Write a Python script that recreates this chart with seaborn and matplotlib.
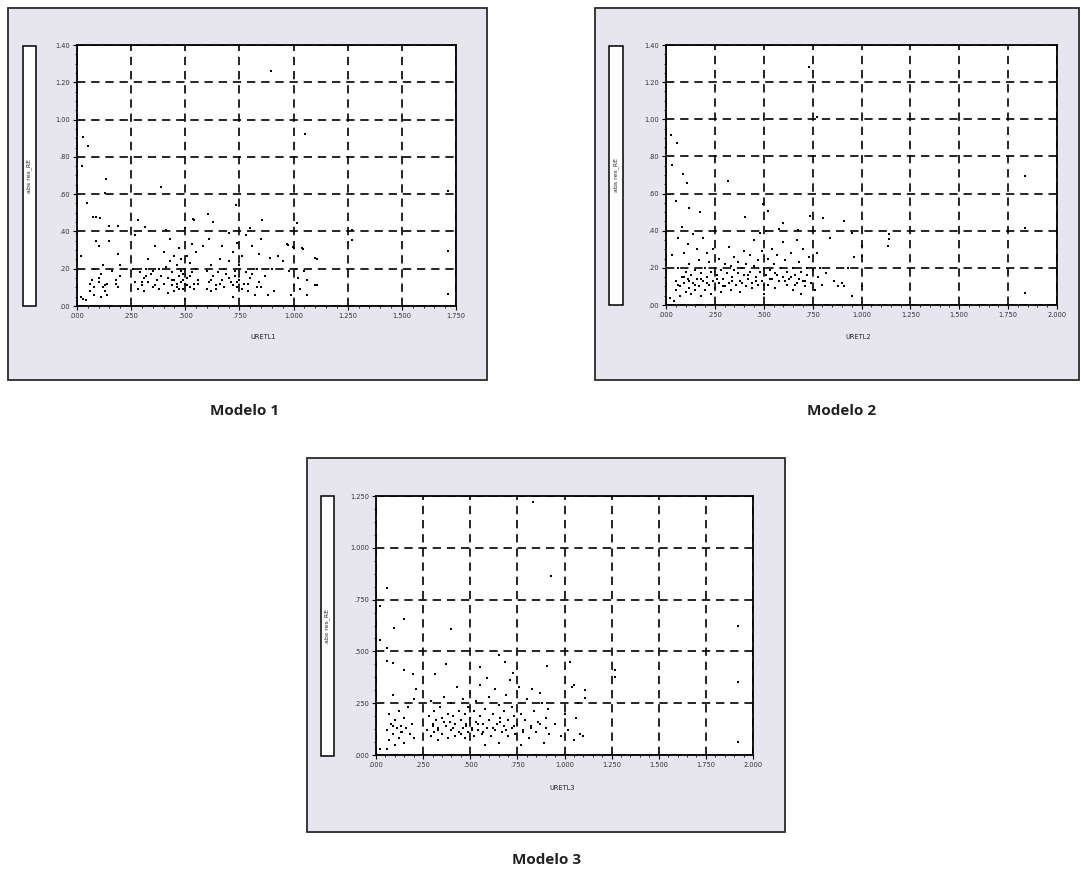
import matplotlib
matplotlib.use("Agg")
import matplotlib.pyplot as plt
import seaborn as sns
import pandas as pd
from matplotlib.patches import Rectangle
from matplotlib.ticker import AutoMinorLocator

# ==========================
# DATA
# ==========================

m1_x = [0.898, 1.052, 0.028, 0.051, 0.025, 0.136, 0.39, 0.128, 0.048, 1.715, 1.715, 1.715,
        1.268, 1.268, 1.106, 1.106, 1.014, 0.975, 0.998, 1.044, 0.736, 0.852, 0.605, 0.536,
        0.282, 0.313, 0.074, 0.105,
        0.02, 0.03, 0.04, 0.02, 0.06, 0.06, 0.07, 0.08, 0.08, 0.09, 0.09, 0.10, 0.10, 0.11,
        0.11, 0.12, 0.12, 0.13, 0.14, 0.14, 0.15, 0.15, 0.16, 0.18, 0.18, 0.19, 0.19, 0.19,
        0.2, 0.2, 0.26, 0.27, 0.27, 0.28, 0.29, 0.3, 0.31, 0.31, 0.32, 0.33, 0.33, 0.34,
        0.35, 0.35, 0.36, 0.37, 0.38, 0.38, 0.39, 0.4, 0.4, 0.41, 0.41, 0.42, 0.42, 0.43,
        0.43, 0.44, 0.44, 0.45, 0.45, 0.45, 0.46, 0.46, 0.47, 0.47, 0.48, 0.48, 0.48, 0.49,
        0.49, 0.5, 0.5, 0.5, 0.5, 0.51, 0.51, 0.52, 0.52, 0.53, 0.53, 0.54, 0.54, 0.55,
        0.55, 0.56, 0.58, 0.6, 0.6, 0.61, 0.61, 0.62, 0.62, 0.63, 0.63, 0.64, 0.65, 0.66,
        0.67, 0.67, 0.68, 0.68, 0.69, 0.7, 0.7, 0.71, 0.72, 0.72, 0.73, 0.73, 0.74, 0.74,
        0.75, 0.75, 0.76, 0.77, 0.78, 0.78, 0.79, 0.8, 0.8, 0.81, 0.82, 0.83, 0.84, 0.84,
        0.85, 0.85, 0.87, 0.88, 0.89, 0.9, 0.91, 0.93, 0.95, 0.97, 0.98, 0.99, 1.0, 1.0,
        1.01, 1.02, 1.03, 1.04, 1.05, 1.06, 1.06, 1.1, 1.1,
        0.08, 0.1, 0.13, 0.3, 0.32, 0.36, 0.44, 0.46, 0.47, 0.49, 0.51, 0.52, 0.54, 0.56,
        0.62, 0.64, 0.66, 0.7, 0.72, 0.74, 0.76, 0.79, 0.81, 0.83]
m1_y = [1.262, 0.92, 0.904, 0.859, 0.752, 0.68, 0.636, 0.607, 0.55, 0.618, 0.295, 0.066,
        0.406, 0.353, 0.254, 0.111, 0.446, 0.326, 0.317, 0.308, 0.54, 0.46, 0.496, 0.469,
        0.46, 0.424, 0.478, 0.474,
        0.05, 0.04, 0.03, 0.27, 0.12, 0.08, 0.14, 0.06, 0.2, 0.35, 0.48, 0.32, 0.13, 0.17,
        0.05, 0.1, 0.22, 0.08, 0.12, 0.06, 0.43, 0.35, 0.19, 0.12, 0.14, 0.28, 0.43, 0.1,
        0.16, 0.22, 0.2, 0.38, 0.13, 0.09, 0.18, 0.11, 0.15, 0.08, 0.2, 0.13, 0.25, 0.17,
        0.1, 0.19, 0.32, 0.14, 0.2, 0.09, 0.16, 0.29, 0.12, 0.41, 0.21, 0.07, 0.15, 0.36,
        0.24, 0.11, 0.18, 0.08, 0.27, 0.14, 0.22, 0.1, 0.16, 0.31, 0.13, 0.19, 0.25, 0.09,
        0.17, 0.12, 0.2, 0.04, 0.42, 0.27, 0.15, 0.1, 0.23, 0.18, 0.33, 0.12, 0.46, 0.2,
        0.29, 0.14, 0.32, 0.19, 0.09, 0.13, 0.36, 0.22, 0.08, 0.16, 0.45, 0.11, 0.18, 0.25,
        0.14, 0.32, 0.2, 0.1, 0.17, 0.39, 0.24, 0.13, 0.29, 0.05, 0.19, 0.16, 0.1, 0.34,
        0.14, 0.22, 0.27, 0.12, 0.38, 0.18, 0.08, 0.15, 0.42, 0.32, 0.06, 0.2, 0.13, 0.28,
        0.1, 0.36, 0.16, 0.06, 0.26, 0.2, 0.08, 0.27, 0.24, 0.33, 0.19, 0.06, 0.31, 0.11,
        0.2, 0.15, 0.09, 0.31, 0.19, 0.06, 0.14, 0.26, 0.11,
        0.1, 0.15, 0.11, 0.13, 0.16, 0.11, 0.14, 0.12, 0.09, 0.14, 0.11, 0.16, 0.09, 0.12,
        0.14, 0.09, 0.12, 0.15, 0.11, 0.13, 0.09, 0.12, 0.17, 0.1]

m2_x = [0.729, 0.771, 0.024, 0.055, 0.029, 0.089, 0.106, 0.319, 0.051, 0.119, 0.174, 0.404,
        0.498, 0.524, 0.597, 0.677, 0.737, 0.805, 0.908, 0.951, 1.002, 1.002, 1.002, 1.143,
        1.143, 1.138, 1.838, 1.838, 1.838,
        0.02, 0.03, 0.04, 0.05, 0.05, 0.06, 0.06, 0.07, 0.07, 0.08, 0.08, 0.09, 0.09, 0.1,
        0.1, 0.11, 0.11, 0.12, 0.12, 0.13, 0.13, 0.14, 0.14, 0.15, 0.15, 0.16, 0.16, 0.17,
        0.17, 0.18, 0.18, 0.19, 0.19, 0.2, 0.2, 0.21, 0.21, 0.22, 0.22, 0.23, 0.23, 0.24,
        0.24, 0.25, 0.25, 0.26, 0.27, 0.27, 0.28, 0.28, 0.29, 0.3, 0.3, 0.31, 0.32, 0.32,
        0.33, 0.33, 0.34, 0.35, 0.35, 0.36, 0.37, 0.37, 0.38, 0.38, 0.39, 0.4, 0.4, 0.41,
        0.41, 0.42, 0.43, 0.43, 0.44, 0.44, 0.45, 0.45, 0.46, 0.47, 0.47, 0.48, 0.48, 0.49,
        0.49, 0.5, 0.5, 0.51, 0.51, 0.52, 0.52, 0.53, 0.54, 0.54, 0.55, 0.56, 0.56, 0.57,
        0.58, 0.58, 0.59, 0.6, 0.6, 0.61, 0.62, 0.62, 0.63, 0.64, 0.65, 0.65, 0.66, 0.67,
        0.67, 0.68, 0.69, 0.69, 0.7, 0.7, 0.71, 0.72, 0.72, 0.73, 0.74, 0.75, 0.76, 0.77,
        0.78, 0.79, 0.8, 0.82, 0.84, 0.86, 0.88, 0.9, 0.91, 0.93, 0.95, 0.96,
        0.06, 0.09, 0.12, 0.15, 0.18, 0.21, 0.26, 0.29, 0.34, 0.39, 0.42, 0.46, 0.5, 0.53,
        0.57, 0.61, 0.64, 0.66, 0.68, 0.71]
m2_y = [1.284, 1.011, 0.917, 0.872, 0.752, 0.707, 0.657, 0.666, 0.559, 0.523, 0.501, 0.474,
        0.546, 0.505, 0.442, 0.406, 0.478, 0.469, 0.451, 0.388, 0.317, 0.263, 0.102, 0.38,
        0.353, 0.32, 0.696, 0.415, 0.066,
        0.04, 0.27, 0.02, 0.13, 0.08, 0.36, 0.2, 0.1, 0.05, 0.15, 0.42, 0.12, 0.28, 0.07,
        0.18, 0.14, 0.33, 0.09, 0.22, 0.16, 0.06, 0.12, 0.38, 0.19, 0.08, 0.14, 0.3, 0.1,
        0.24, 0.17, 0.05, 0.13, 0.36, 0.2, 0.08, 0.15, 0.28, 0.11, 0.23, 0.18, 0.06, 0.13,
        0.3, 0.2, 0.09, 0.16, 0.12, 0.25, 0.07, 0.19, 0.14, 0.22, 0.1, 0.17, 0.12, 0.31,
        0.21, 0.08, 0.15, 0.19, 0.26, 0.11, 0.17, 0.23, 0.13, 0.07, 0.2, 0.16, 0.29, 0.1,
        0.22, 0.14, 0.18, 0.27, 0.09, 0.12, 0.21, 0.35, 0.15, 0.24, 0.11, 0.18, 0.39, 0.13,
        0.29, 0.2, 0.06, 0.16, 0.4, 0.11, 0.25, 0.19, 0.14, 0.3, 0.22, 0.09, 0.17, 0.27,
        0.13, 0.41, 0.2, 0.15, 0.34, 0.24, 0.11, 0.18, 0.14, 0.28, 0.08, 0.2, 0.16, 0.35,
        0.12, 0.23, 0.06, 0.18, 0.13, 0.3, 0.1, 0.2, 0.16, 0.26, 0.12, 0.19, 0.08, 0.28,
        0.15, 0.2, 0.11, 0.17, 0.36, 0.13, 0.1, 0.12, 0.1, 0.2, 0.05, 0.26,
        0.11, 0.15, 0.13, 0.11, 0.14, 0.12, 0.14, 0.1, 0.13, 0.12, 0.16, 0.13, 0.11, 0.14,
        0.16, 0.13, 0.15, 0.11, 0.14, 0.13]

m3_x = [0.834, 0.931, 0.057, 0.021, 0.148, 0.095, 0.396, 0.021, 0.057, 0.06, 0.092, 0.15,
        0.198, 0.369, 0.313, 0.65, 0.551, 0.587, 0.684, 0.728, 0.905, 1.028, 1.049, 1.108,
        1.108, 1.267, 1.267, 1.92, 1.92, 1.92, 0.021, 0.057,
        0.06, 0.07, 0.07, 0.08, 0.09, 0.09, 0.1, 0.1, 0.11, 0.12, 0.12, 0.13, 0.14, 0.15,
        0.15, 0.16, 0.17, 0.18, 0.19, 0.2, 0.2, 0.21, 0.27, 0.28, 0.29, 0.29, 0.3, 0.31,
        0.31, 0.32, 0.33, 0.33, 0.34, 0.35, 0.35, 0.36, 0.37, 0.38, 0.38, 0.39, 0.4, 0.4,
        0.41, 0.42, 0.42, 0.43, 0.44, 0.44, 0.45, 0.46, 0.46, 0.47, 0.47, 0.48, 0.49, 0.49,
        0.5, 0.5, 0.51, 0.52, 0.52, 0.53, 0.53, 0.54, 0.55, 0.55, 0.56, 0.57, 0.58, 0.58,
        0.59, 0.6, 0.6, 0.61, 0.62, 0.63, 0.63, 0.64, 0.65, 0.65, 0.66, 0.67, 0.68, 0.68,
        0.69, 0.7, 0.7, 0.71, 0.72, 0.72, 0.73, 0.74, 0.75, 0.76, 0.77, 0.77, 0.78, 0.79,
        0.8, 0.81, 0.82, 0.83, 0.84, 0.85, 0.86, 0.87, 0.88, 0.89, 0.9, 0.9, 0.91, 0.92,
        0.95, 0.98, 1.0, 1.02, 1.04, 1.05, 1.06, 1.07, 1.08, 1.1,
        0.09, 0.13, 0.3, 0.33, 0.36, 0.41, 0.45, 0.48, 0.51, 0.54, 0.57, 0.62, 0.66, 0.69,
        0.73, 0.78, 0.82, 0.87]
m3_y = [1.219, 0.866, 0.804, 0.719, 0.655, 0.611, 0.608, 0.555, 0.515, 0.454, 0.442, 0.41,
        0.391, 0.438, 0.391, 0.483, 0.426, 0.37, 0.45, 0.394, 0.43, 0.45, 0.338, 0.314,
        0.273, 0.41, 0.375, 0.624, 0.351, 0.061, 0.027, 0.027,
        0.12, 0.2, 0.07, 0.15, 0.1, 0.29, 0.17, 0.05, 0.13, 0.21, 0.08, 0.14, 0.11, 0.18,
        0.06, 0.13, 0.23, 0.1, 0.15, 0.27, 0.08, 0.32, 0.12, 0.19, 0.09, 0.26, 0.15, 0.21,
        0.11, 0.17, 0.13, 0.07, 0.23, 0.18, 0.1, 0.28, 0.14, 0.2, 0.08, 0.16, 0.12, 0.25,
        0.19, 0.09, 0.15, 0.33, 0.21, 0.11, 0.17, 0.13, 0.27, 0.08, 0.2, 0.15, 0.23, 0.11,
        0.18, 0.3, 0.13, 0.09, 0.21, 0.16, 0.26, 0.12, 0.19, 0.34, 0.1, 0.15, 0.22, 0.05,
        0.13, 0.28, 0.17, 0.09, 0.2, 0.12, 0.32, 0.15, 0.24, 0.06, 0.18, 0.11, 0.21, 0.14,
        0.29, 0.09, 0.17, 0.36, 0.13, 0.23, 0.19, 0.1, 0.15, 0.33, 0.05, 0.2, 0.12, 0.17,
        0.27, 0.08, 0.14, 0.32, 0.21, 0.11, 0.16, 0.3, 0.25, 0.06, 0.13, 0.18, 0.22, 0.1,
        0.15, 0.09, 0.2, 0.12, 0.33, 0.07, 0.18, 0.25, 0.1, 0.09,
        0.14, 0.11, 0.14, 0.12, 0.16, 0.13, 0.1, 0.14, 0.12, 0.15, 0.11, 0.13, 0.16, 0.12,
        0.14, 0.11, 0.13, 0.15]

ticks_x = [0.0, 0.25, 0.5, 0.75, 1.0, 1.25, 1.5, 1.75, 2.0]
labels_x = [".000", ".250", ".500", ".750", "1.000", "1.250", "1.500", "1.750", "2.000"]
ticks_y12 = [0.0, 0.2, 0.4, 0.6, 0.8, 1.0, 1.2, 1.4]
labels_y12 = [".00", ".20", ".40", ".60", ".80", "1.00", "1.20", "1.40"]
ticks_y3 = [0.0, 0.25, 0.5, 0.75, 1.0, 1.25]
labels_y3 = [".000", ".250", ".500", ".750", "1.000", "1.250"]

x_names = ["URETL1", "URETL2", "URETL3"]
y_name = "abs res_RE"
captions = ["Modelo 1", "Modelo 2", "Modelo 3"]

# ==========================
# FIGURE
# ==========================

sns.set_style("white")
plt.rcParams["font.family"] = ["DejaVu Sans"]

W, H = 1081, 872
fig = plt.figure(figsize=(W / 100, H / 100), dpi=100)
fig.patch.set_facecolor("white")


def fx(px):
    return px / W


def fy(py):
    return 1 - py / H


def box(x0, y0, x1, y1, face, edge, lw):
    r = Rectangle((fx(x0), fy(y1)), fx(x1) - fx(x0), fy(y0) - fy(y1),
                  transform=fig.transFigure, facecolor=face,
                  edgecolor=edge, linewidth=lw, zorder=-2)
    fig.add_artist(r)


def draw_panel(frame, legend_box, ax_px, xs, ys, xmax, ymax,
               yticks, ylabels, xname, xlab_pos, caption, cap_pos):
    box(*frame, "#e7e5ee", "#2a2a2a", 1.3)
    box(*legend_box, "white", "black", 1.1)
    lx = (legend_box[0] + legend_box[2]) / 2
    ly = (legend_box[1] + legend_box[3]) / 2
    fig.text(fx(lx), fy(ly), y_name, rotation=90, ha="center", va="center",
             fontsize=4.5, color="#222222")

    l, t, r, b = ax_px
    ax = fig.add_axes([fx(l), fy(b), fx(r) - fx(l), fy(t) - fy(b)])
    df = pd.DataFrame({"x": xs, "y": ys})
    sns.scatterplot(data=df, x="x", y="y", ax=ax, marker="s", s=4.5,
                    color="black", linewidth=0)

    ax.set_xlim(0, xmax)
    ax.set_ylim(0, ymax)
    xt = [v for v in ticks_x if v <= xmax + 1e-9]
    ax.set_xticks(xt)
    ax.set_xticklabels(labels_x[:len(xt)])
    ax.set_yticks(yticks)
    ax.set_yticklabels(ylabels)
    ax.xaxis.set_minor_locator(AutoMinorLocator(5))
    ax.yaxis.set_minor_locator(AutoMinorLocator(4))
    ax.set_xlabel("")
    ax.set_ylabel("")
    ax.set_facecolor("white")
    ax.grid(True, which="major", color="black", linestyle=(0, (5, 3.5)),
            linewidth=1.2)
    ax.set_axisbelow(True)
    for s in ax.spines.values():
        s.set_color("black")
        s.set_linewidth(1.3)
    ax.tick_params(which="major", direction="out", length=3, width=0.8,
                   labelsize=4.8, labelcolor="#333333", color="black",
                   bottom=True, left=True, pad=2)
    ax.tick_params(which="minor", direction="out", length=1.5, width=0.6,
                   color="black", bottom=True, left=True)

    fig.text(fx(xlab_pos[0]), fy(xlab_pos[1]), xname, ha="center", va="center",
             fontsize=4.8, color="#222222")
    fig.text(fx(cap_pos[0]), fy(cap_pos[1]), caption, ha="center", va="center",
             fontsize=11, fontweight="bold", family=["Open Sans", "DejaVu Sans"],
             color="#222222")
    return ax


draw_panel((8, 8, 487, 380), (23, 46, 36, 306), (77, 45, 456, 306),
           m1_x, m1_y, 1.75, 1.4, ticks_y12, labels_y12,
           x_names[0], (263, 337), captions[0], (245, 411))

draw_panel((595, 8, 1079, 380), (609, 46, 623, 305), (666, 45, 1057, 305),
           m2_x, m2_y, 2.0, 1.4, ticks_y12, labels_y12,
           x_names[1], (858, 337), captions[1], (842, 411))

draw_panel((307, 458, 785, 832), (321, 496, 334, 756), (376, 496, 753, 755),
           m3_x, m3_y, 2.0, 1.25, ticks_y3, labels_y3,
           x_names[2], (562, 788), captions[2], (547, 860))

fig.savefig("out.png", dpi=100)
plt.close(fig)
